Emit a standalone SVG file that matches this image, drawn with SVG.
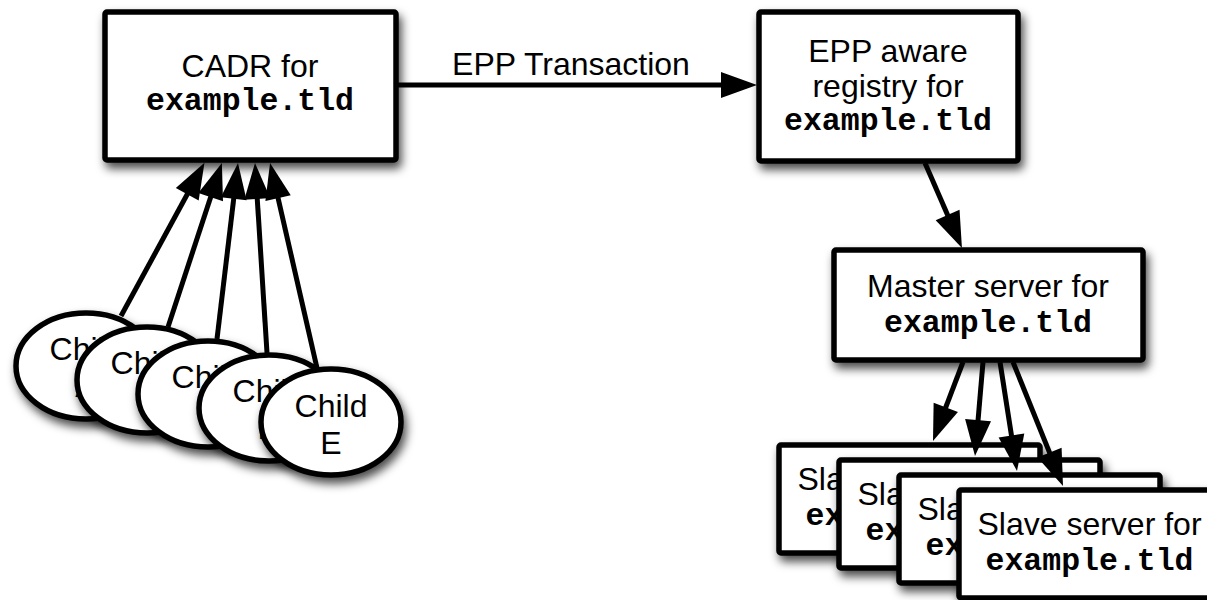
<svg xmlns="http://www.w3.org/2000/svg" width="1207" height="600" viewBox="0 0 1207 600">
<style>
.box{fill:#fff;stroke:#000;stroke-width:5.5;filter:url(#sh)}
.ell{fill:#fff;stroke:#000;stroke-width:5.5;filter:url(#sh)}
.t{font-family:"Liberation Sans",Arial,sans-serif;font-size:32px;fill:#000;text-anchor:middle}
.m{font-family:"Liberation Mono","Courier New",monospace;font-size:31.5px;font-weight:bold;fill:#000;text-anchor:middle}
.c{fill:none;stroke:#000;stroke-width:5;marker-end:url(#ah)}
</style>
<defs>
<filter id="sh" x="-20%" y="-20%" width="140%" height="150%">
<feDropShadow dx="3" dy="6" stdDeviation="5" flood-color="#000" flood-opacity="0.7"/>
</filter>
<marker id="ah" markerUnits="userSpaceOnUse" markerWidth="40" markerHeight="32" viewBox="0 -16 38 32" refX="6" refY="0" orient="auto">
<path d="M0,-13 L36,0 L0,13 Z" fill="#000"/>
</marker>
</defs>
<rect width="1207" height="600" fill="#fff"/>

<g id="cadr">
<rect class="box" x="105" y="12" width="291" height="148" rx="2"/>
<text class="t" x="250" y="77">CADR for</text>
<text class="m" x="250" y="110">example.tld</text>
</g>

<g id="registry">
<rect class="box" x="759" y="12" width="259" height="149" rx="2"/>
<text class="t" x="888" y="62">EPP aware</text>
<text class="t" x="888" y="97">registry for</text>
<text class="m" x="888" y="130">example.tld</text>
</g>

<g id="master">
<rect class="box" x="834" y="250" width="309" height="110" rx="2"/>
<text class="t" x="988" y="297">Master server for</text>
<text class="m" x="988" y="332">example.tld</text>
</g>

<g id="slave1">
<rect class="box" x="779" y="445" width="261" height="108" rx="2"/>
<text class="t" x="909.5" y="490">Slave server for</text>
<text class="m" x="909.5" y="525">example.tld</text>
</g>
<g id="slave2">
<rect class="box" x="839" y="460" width="261" height="108" rx="2"/>
<text class="t" x="969.5" y="505">Slave server for</text>
<text class="m" x="969.5" y="540">example.tld</text>
</g>
<g id="slave3">
<rect class="box" x="899" y="475" width="261" height="108" rx="2"/>
<text class="t" x="1029.5" y="520">Slave server for</text>
<text class="m" x="1029.5" y="555">example.tld</text>
</g>
<g id="slave4">
<rect class="box" x="959" y="490" width="261" height="108" rx="2"/>
<text class="t" x="1089.5" y="535">Slave server for</text>
<text class="m" x="1089.5" y="570">example.tld</text>
</g>

<g id="childA">
<ellipse class="ell" cx="86" cy="366" rx="70" ry="53"/>
<text class="t" x="86" y="360">Child</text>
<text class="t" x="86" y="397">A</text>
</g>
<g id="childB">
<ellipse class="ell" cx="147" cy="380" rx="70" ry="53"/>
<text class="t" x="147" y="374">Child</text>
<text class="t" x="147" y="411">B</text>
</g>
<g id="childC">
<ellipse class="ell" cx="208" cy="394" rx="70" ry="53"/>
<text class="t" x="208" y="388">Child</text>
<text class="t" x="208" y="425">C</text>
</g>
<g id="childD">
<ellipse class="ell" cx="269" cy="408" rx="70" ry="53"/>
<text class="t" x="269" y="402">Child</text>
<text class="t" x="269" y="439">D</text>
</g>
<g id="childE">
<ellipse class="ell" cx="331" cy="422" rx="70" ry="53"/>
<text class="t" x="331" y="417">Child</text>
<text class="t" x="331" y="454">E</text>
</g>

<g id="connectors">
<line class="c" x1="398" y1="85" x2="727" y2="85"/>
<text class="t" x="571" y="75">EPP Transaction</text>
<line class="c" x1="925" y1="163" x2="950" y2="220.5"/>
<line class="c" x1="963" y1="362" x2="943.65" y2="412.95"/>
<line class="c" x1="983" y1="362" x2="977.55" y2="426.1"/>
<line class="c" x1="1000" y1="362" x2="1012.38" y2="441.36"/>
<line class="c" x1="1013" y1="362" x2="1051.78" y2="458.19"/>
<line class="c" x1="121" y1="316" x2="190.12" y2="189.07"/>
<line class="c" x1="168" y1="327" x2="212.52" y2="191.44"/>
<line class="c" x1="217" y1="339" x2="234.43" y2="192.79"/>
<line class="c" x1="267" y1="353" x2="256.89" y2="192.94"/>
<line class="c" x1="317" y1="368" x2="276.74" y2="192.24"/>
</g>
</svg>
